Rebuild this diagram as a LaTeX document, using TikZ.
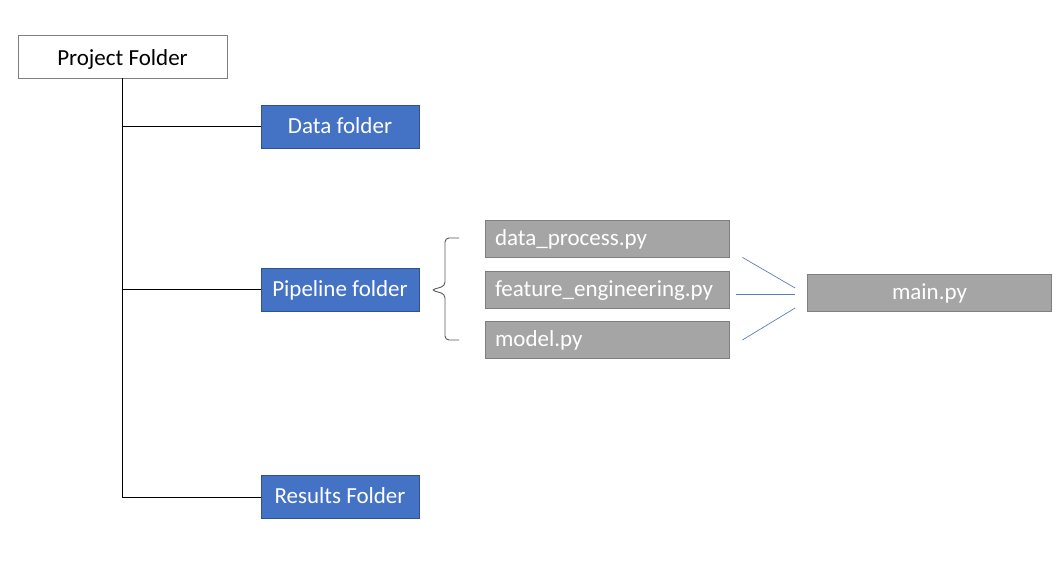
\documentclass[tikz,border=0pt]{standalone}
\usepackage{fontspec}
\setmainfont{Carlito}
\usetikzlibrary{calc}
\definecolor{boxblue}{HTML}{4472C4}
\definecolor{boxblueline}{HTML}{2F528F}
\definecolor{boxgray}{HTML}{A5A5A5}
\definecolor{boxgrayline}{HTML}{7F7F7F}
\definecolor{linkblue}{HTML}{5B7DB8}

\begin{document}
\begin{tikzpicture}[x=1pt,y=-1pt,font=\fontsize{23}{26}\selectfont]
    % Style definitions for each kind of box
    \tikzset{
        % the root folder
        root box/.style={draw=boxgrayline,fill=white,line width=0.8pt,
            minimum width=209pt,minimum height=43pt,inner sep=0pt,
            text height=19pt,text depth=2pt},
        % sub folders
        folder box/.style={draw=boxblueline,fill=boxblue,text=white,line width=0.8pt,
            minimum width=158pt,minimum height=43pt,inner sep=0pt,
            text height=17pt,text depth=4pt},
        % python files
        file box/.style={draw=boxgrayline,fill=boxgray,text=white,line width=0.8pt,
            minimum width=244pt,minimum height=37pt,inner sep=0pt,
            text height=17pt,text depth=4pt,text width=224pt,align=left},
        % tree lines
        tree line/.style={black,line width=0.9pt},
        % links to main.py
        link line/.style={linkblue,line width=0.7pt}
    }
    \useasboundingbox (0,0) rectangle (1062,560);

    % Root folder
    \node[root box] (proj) at (122.5, 56.5) {Project Folder};

    % Sub folders
    \node[folder box] (data) at (340, 126.5) {Data folder};
    \node[folder box] (pipe) at (340, 289.5) {Pipeline folder};
    \node[folder box] (res) at (340, 497) {Results Folder};

    % Files in the pipeline folder
    \node[file box] (dp) at (607, 238.5) {data\_process.py};
    \node[file box] (fe) at (607, 289.5) {feature\_engineering.py};
    \node[file box] (md) at (607, 339.5) {model.py};

    \node[file box,align=center] (main) at (929.5, 292.5) {main.py};

    % Tree lines
    \draw[tree line] (proj.south) -- (proj.south |- res.west) -- (res.west);
    \draw[tree line] (proj.south |- data.west) -- (data.west);
    \draw[tree line] (proj.south |- pipe.west) -- (pipe.west);

    % Brace in front of the files
    \draw[boxgrayline!70!black,line width=0.9pt,rounded corners=4pt]
        (459,238) -- (445,238) -- (445,286) -- (431,290) -- (445,294)
        -- (445,340) -- (459,340);

    % Links to main.py
    \draw[link line] ($(dp.south east)+(13,0)$) -- ($(main.west)+(-12,-4.5)$);
    \draw[link line] ($(fe.east)+(7,4.5)$) -- ($(main.west)+(-12,1.5)$);
    \draw[link line] ($(md.east)+(13,0.5)$) -- ($(main.west)+(-12,15.5)$);
\end{tikzpicture}
\end{document}
